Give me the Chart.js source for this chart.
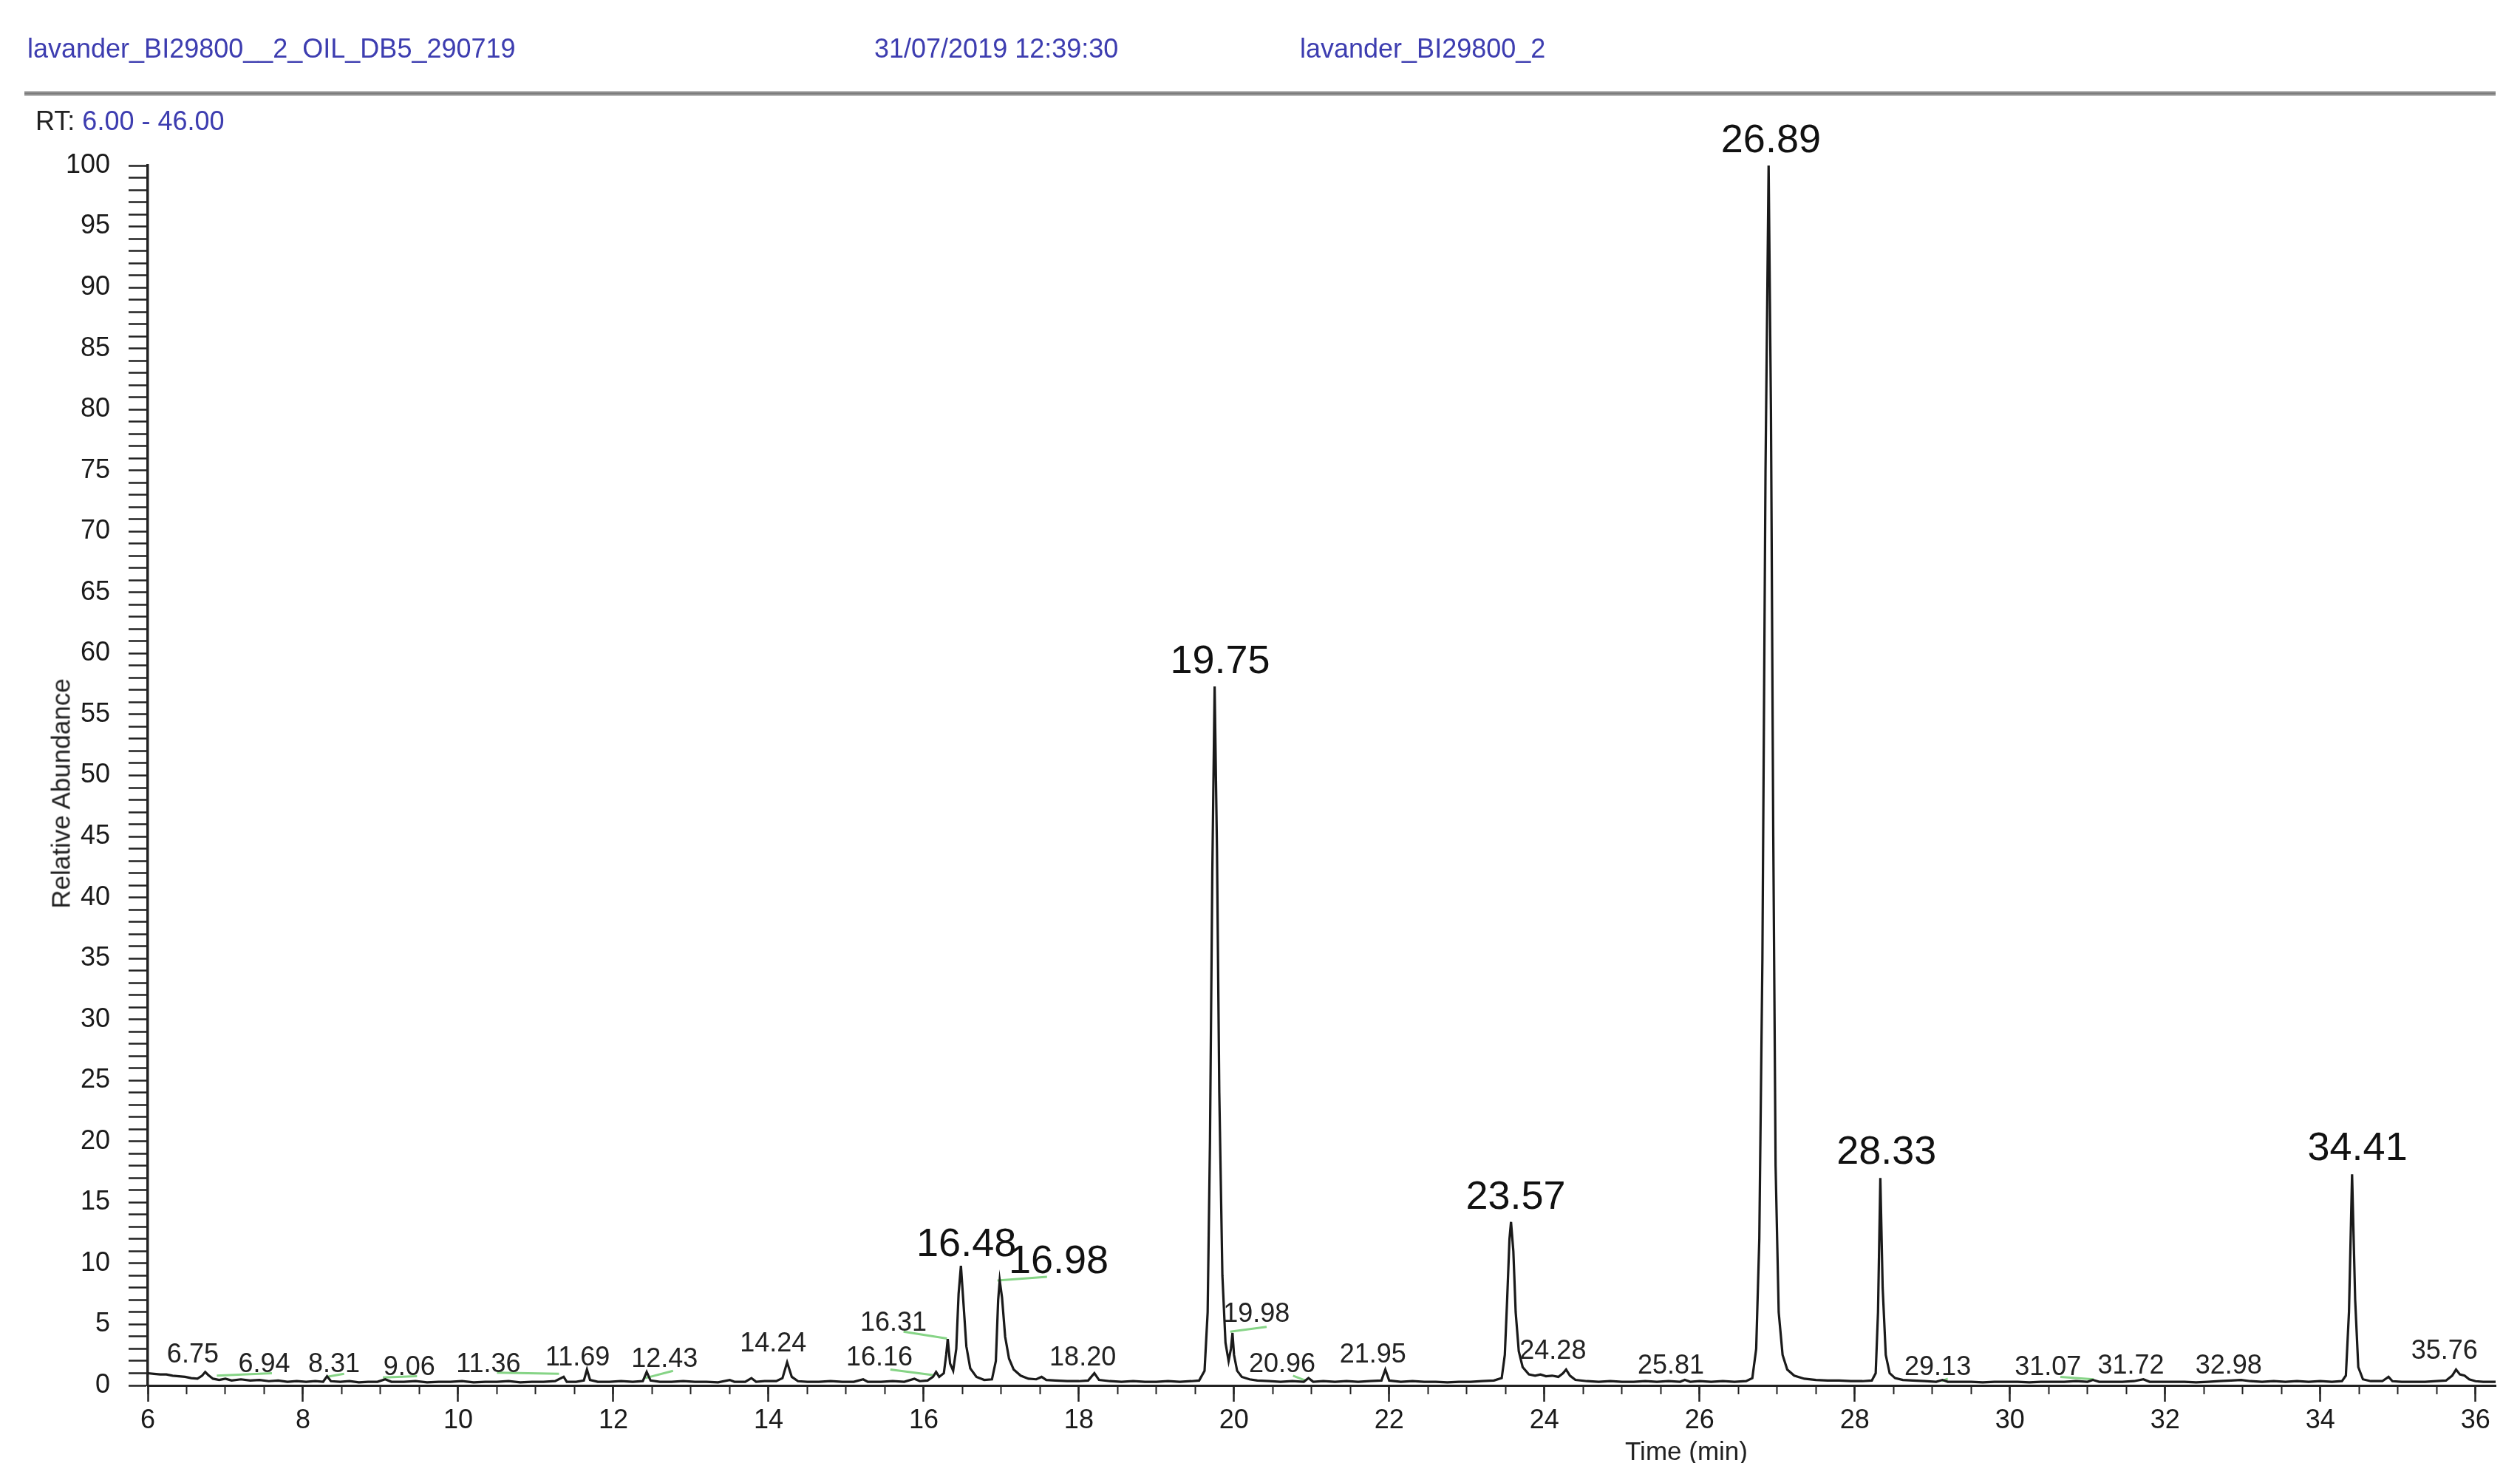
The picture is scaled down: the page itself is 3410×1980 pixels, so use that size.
<!DOCTYPE html>
<html>
<head>
<meta charset="utf-8">
<script src="https://cdn.jsdelivr.net/npm/chart.js@4.4.0/dist/chart.umd.min.js"></script>
<style>
  html, body { margin: 0; padding: 0; background: #fff; }
  #wrap { position: relative; width: 3410px; height: 1980px; overflow: hidden; }
  #chart { position: absolute; left: 0; top: 0; }
  .txt { position: absolute; font-family: "Liberation Sans", Arial, sans-serif; font-size: 36px; line-height: 1; white-space: nowrap; color: #3d3db0; z-index: 2; }
  .rule { position: absolute; left: 33px; top: 123px; width: 3344px; height: 7px; background: linear-gradient(#d0d0d0, #7c7c7c 40%, #7c7c7c 60%, #d0d0d0); }
</style>
</head>
<body>
<div id="wrap">
  <canvas id="chart" width="3410" height="1980"></canvas>
  <div class="txt" style="left:37px;top:48px">lavander_BI29800__2_OIL_DB5_290719</div>
  <div class="txt" style="left:1183px;top:48px">31/07/2019 12:39:30</div>
  <div class="txt" style="left:1759px;top:48px">lavander_BI29800_2</div>
  <div class="rule"></div>
  <div class="txt" style="left:48px;top:146px;color:#222">RT: <span style="color:#3d3db0">6.00 - 46.00</span></div>
  <div class="txt" style="left:82px;top:1074px;font-size:35px;color:#222;transform:translate(-50%,-50%) rotate(-90deg)">Relative Abundance</div>
  <div class="txt" style="left:2282px;top:1946px;font-size:35px;color:#222;transform:translateX(-50%)">Time (min)</div>
</div>
<script>
// Chromatogram trace, [retention time (min), relative abundance (%)]
const traceEarly = [
  [6.00, 1.0], [6.08, 0.95], [6.16, 0.9], [6.24, 0.9], [6.32, 0.8], [6.40, 0.75], [6.48, 0.7],
  [6.56, 0.6], [6.64, 0.55], [6.70, 0.8], [6.74, 1.1], [6.78, 0.85], [6.84, 0.55], [6.92, 0.45],
  [7.00, 0.55], [7.08, 0.4], [7.20, 0.5], [7.32, 0.4], [7.44, 0.45], [7.56, 0.35], [7.68, 0.4],
  [7.80, 0.3], [7.92, 0.35], [8.04, 0.3], [8.16, 0.35], [8.26, 0.3], [8.31, 0.75], [8.36, 0.35],
  [8.48, 0.3], [8.60, 0.35], [8.72, 0.25], [8.84, 0.3], [8.96, 0.3], [9.06, 0.5], [9.14, 0.3],
  [9.30, 0.3], [9.45, 0.35], [9.60, 0.25], [9.75, 0.3], [9.90, 0.3], [10.05, 0.35], [10.20, 0.25],
  [10.35, 0.3], [10.50, 0.3], [10.65, 0.35], [10.80, 0.25], [10.95, 0.3], [11.10, 0.3], [11.25, 0.35],
  [11.36, 0.7], [11.40, 0.3], [11.52, 0.3], [11.62, 0.4], [11.66, 1.3], [11.70, 0.45], [11.80, 0.3],
  [11.95, 0.3], [12.10, 0.35], [12.25, 0.3], [12.38, 0.35], [12.43, 1.1], [12.48, 0.4], [12.60, 0.3],
  [12.75, 0.3], [12.90, 0.35], [13.05, 0.3], [13.20, 0.3], [13.35, 0.25], [13.50, 0.45], [13.56, 0.3],
  [13.70, 0.3], [13.78, 0.6], [13.84, 0.3], [13.95, 0.35], [14.10, 0.35], [14.18, 0.6], [14.24, 1.9],
  [14.30, 0.7], [14.38, 0.35], [14.50, 0.3], [14.65, 0.3], [14.80, 0.35], [14.95, 0.3], [15.10, 0.3],
  [15.22, 0.5], [15.28, 0.3], [15.45, 0.3], [15.60, 0.35], [15.75, 0.3], [15.88, 0.55], [15.95, 0.35],
  [16.05, 0.4]
];
const trace16to19 = [
  [16.12, 0.7], [16.16, 1.1], [16.20, 0.7], [16.26, 1.0], [16.29, 2.5], [16.31, 3.8], [16.34, 1.8],
  [16.38, 1.2], [16.42, 3.0], [16.45, 7.5], [16.48, 9.8], [16.51, 7.0], [16.55, 3.2], [16.60, 1.4],
  [16.68, 0.7], [16.78, 0.45], [16.88, 0.5], [16.93, 2.0], [16.96, 7.0], [16.98, 8.6], [17.01, 7.2],
  [17.05, 4.0], [17.10, 2.2], [17.16, 1.3], [17.25, 0.8], [17.35, 0.55], [17.45, 0.5], [17.52, 0.7],
  [17.58, 0.45], [17.70, 0.4], [17.85, 0.35], [18.00, 0.35], [18.12, 0.4], [18.20, 1.0], [18.26, 0.45],
  [18.40, 0.35], [18.55, 0.3], [18.70, 0.35], [18.85, 0.3], [19.00, 0.3], [19.15, 0.35], [19.30, 0.3],
  [19.45, 0.35], [19.55, 0.4]
];
const trace19to23 = [
  [19.62, 1.2], [19.66, 6], [19.69, 20], [19.72, 42], [19.75, 57.3], [19.78, 44], [19.81, 24],
  [19.85, 9], [19.89, 3.5], [19.93, 2.0], [19.96, 3.0], [19.98, 4.3], [20.00, 2.5], [20.04, 1.2],
  [20.10, 0.7], [20.20, 0.5], [20.30, 0.4], [20.45, 0.35], [20.60, 0.3], [20.75, 0.35], [20.90, 0.3],
  [20.96, 0.6], [21.02, 0.3], [21.15, 0.35], [21.30, 0.3], [21.45, 0.35], [21.60, 0.3], [21.75, 0.35],
  [21.90, 0.4], [21.95, 1.3], [22.00, 0.4], [22.15, 0.3], [22.30, 0.35], [22.45, 0.3], [22.60, 0.3],
  [22.75, 0.25], [22.90, 0.3], [23.05, 0.3], [23.20, 0.35], [23.35, 0.4]
];
const trace23to28 = [
  [23.45, 0.6], [23.49, 2.5], [23.52, 7], [23.55, 12], [23.57, 13.4], [23.60, 11], [23.63, 6],
  [23.67, 2.8], [23.72, 1.5], [23.80, 0.9], [23.88, 0.8], [23.95, 0.9], [24.02, 0.75], [24.10, 0.8],
  [24.18, 0.7], [24.24, 1.0], [24.28, 1.3], [24.33, 0.8], [24.40, 0.45], [24.55, 0.35], [24.70, 0.3],
  [24.85, 0.35], [25.00, 0.3], [25.15, 0.3], [25.30, 0.35], [25.45, 0.3], [25.60, 0.35], [25.75, 0.3],
  [25.81, 0.45], [25.88, 0.3], [26.00, 0.35], [26.15, 0.3], [26.30, 0.35], [26.45, 0.3], [26.60, 0.35],
  [26.68, 0.6], [26.73, 3], [26.77, 12], [26.81, 35], [26.85, 75], [26.89, 100], [26.92, 80],
  [26.95, 45], [26.98, 18], [27.02, 6], [27.07, 2.5], [27.13, 1.3], [27.22, 0.8], [27.35, 0.55],
  [27.50, 0.45], [27.65, 0.4], [27.80, 0.4], [27.95, 0.35], [28.10, 0.35], [28.22, 0.4]
];
const traceLate = [
  [28.27, 1.0], [28.30, 6], [28.33, 17.0], [28.36, 8], [28.40, 2.5], [28.45, 1.0], [28.52, 0.6],
  [28.62, 0.45], [28.75, 0.4], [28.90, 0.35], [29.05, 0.3], [29.13, 0.45], [29.20, 0.3], [29.35, 0.3],
  [29.50, 0.3], [29.65, 0.25], [29.80, 0.3], [29.95, 0.3], [30.10, 0.3], [30.25, 0.25], [30.40, 0.3],
  [30.55, 0.3], [30.70, 0.3], [30.85, 0.35], [31.00, 0.3], [31.07, 0.45], [31.15, 0.3], [31.30, 0.3],
  [31.45, 0.3], [31.60, 0.35], [31.72, 0.5], [31.80, 0.3], [31.95, 0.3], [32.10, 0.3], [32.25, 0.3],
  [32.40, 0.25], [32.55, 0.3], [32.70, 0.35], [32.85, 0.4], [32.98, 0.45], [33.10, 0.35], [33.25, 0.3],
  [33.40, 0.35], [33.55, 0.3], [33.70, 0.35], [33.85, 0.3], [34.00, 0.35], [34.15, 0.3], [34.28, 0.35],
  [34.33, 0.8], [34.37, 6], [34.41, 17.3], [34.45, 7], [34.49, 1.5], [34.55, 0.5], [34.65, 0.35],
  [34.80, 0.35], [34.88, 0.7], [34.93, 0.35], [35.05, 0.3], [35.20, 0.3], [35.35, 0.3], [35.50, 0.35],
  [35.62, 0.4], [35.70, 0.8], [35.75, 1.3], [35.80, 0.9], [35.86, 0.8], [35.92, 0.5], [36.00, 0.35],
  [36.10, 0.3], [36.26, 0.3]
];

// Integration baselines (green)
const integrationLines = [
  [[6.89, 0.8], [7.60, 1.0]],
  [[8.30, 0.7], [8.53, 0.95]],
  [[9.03, 0.65], [9.47, 0.75]],
  [[10.50, 1.05], [11.30, 0.95]],
  [[12.41, 0.6], [12.77, 1.2]],
  [[15.57, 1.3], [16.12, 0.85]],
  [[15.74, 4.4], [16.30, 3.85]],
  [[16.95, 8.6], [17.59, 8.9]],
  [[19.95, 4.4], [20.42, 4.8]],
  [[20.76, 0.8], [20.92, 0.4]],
  [[29.12, 0.35], [29.20, 0.55]],
  [[30.65, 0.7], [31.08, 0.5]]
];

// Peak labels: text, anchor time, anchor abundance, large or not
const peakNames = ['6.75', '6.94', '8.31', '9.06', '11.36', '11.69', '12.43', '14.24', '16.16', '16.31',
  '16.48', '16.98', '18.20', '19.75', '19.98', '20.96', '21.95', '23.57', '24.28', '25.81',
  '26.89', '28.33', '29.13', '31.07', '31.72', '32.98', '34.41', '35.76'];
const labelRT = [6.58, 7.50, 8.40, 9.37, 10.39, 11.54, 12.66, 14.06, 15.43, 15.61,
  16.55, 17.74, 18.05, 19.82, 20.29, 20.62, 21.79, 23.63, 24.11, 25.63,
  26.92, 28.41, 29.07, 30.49, 31.56, 32.82, 34.48, 35.60];
const labelAbund = [2.5, 1.7, 1.7, 1.45, 1.7, 2.25, 2.1, 3.4, 2.25, 5.1,
  11.5, 10.1, 2.25, 59.3, 5.8, 1.7, 2.5, 15.4, 2.8, 1.6,
  102, 19.1, 1.45, 1.45, 1.6, 1.6, 19.4, 2.8];
const bigPeaks = ['16.48', '16.98', '19.75', '23.57', '26.89', '28.33', '34.41'];

const FONT = '"Liberation Sans", Arial, sans-serif';
const toXY = pts => pts.map(p => ({ x: p[0], y: p[1] }));

const trace = [].concat(traceEarly, trace16to19, trace19to23, trace23to28, traceLate);

const datasets = [{
  data: toXY(trace),
  borderColor: '#1a1a1a',
  borderWidth: 3.2,
  pointRadius: 0,
  tension: 0
}];
integrationLines.forEach(seg => {
  datasets.push({
    data: toXY(seg),
    borderColor: '#86d486',
    borderWidth: 3,
    pointRadius: 0,
    tension: 0
  });
});

const peakLabelPlugin = {
  id: 'peakLabels',
  afterDatasetsDraw(chart) {
    const { ctx, scales: { x, y } } = chart;
    ctx.save();
    ctx.textAlign = 'center';
    ctx.textBaseline = 'middle';
    peakNames.forEach((name, i) => {
      const big = bigPeaks.includes(name);
      ctx.font = (big ? '54px ' : '36px ') + FONT;
      ctx.fillStyle = big ? '#111' : '#222';
      ctx.fillText(name, x.getPixelForValue(labelRT[i]), y.getPixelForValue(labelAbund[i]));
    });
    ctx.restore();
  }
};

new Chart(document.getElementById('chart'), {
  type: 'line',
  data: { datasets },
  plugins: [peakLabelPlugin],
  options: {
    responsive: false,
    animation: false,
    layout: { padding: { top: 224, right: 33, bottom: 0, left: 0 } },
    plugins: { legend: { display: false }, tooltip: { enabled: false } },
    scales: {
      x: {
        type: 'linear', position: 'bottom', min: 6, max: 36.26, bounds: 'data',
        afterFit: s => { s.height = 105; },
        ticks: { stepSize: 2, includeBounds: false, autoSkip: false, maxRotation: 0, padding: 4,
                 color: '#1a1a1a', font: { family: FONT, size: 36 }, callback: v => v },
        grid: { drawOnChartArea: false, tickLength: 22, tickWidth: 2.5, tickColor: '#222' },
        border: { color: '#222', width: 3 }
      },
      xMinor: {
        type: 'linear', axis: 'x', position: { y: 0 }, min: 6, max: 36.26, bounds: 'data',
        ticks: { display: false, stepSize: 0.5, includeBounds: false, autoSkip: false },
        grid: { drawOnChartArea: false, tickLength: 12, tickWidth: 2, tickColor: '#222' },
        border: { display: false }
      },
      y: {
        min: 0, max: 100,
        afterFit: s => { s.width = 200; },
        ticks: { stepSize: 1, autoSkip: false, padding: 25, color: '#1a1a1a',
                 font: { family: FONT, size: 36 },
                 callback: v => (v % 5 === 0 ? v : '') },
        grid: { drawOnChartArea: false, tickLength: 26, tickWidth: 2.5, tickColor: '#222' },
        border: { color: '#222', width: 3.5 }
      }
    }
  }
});
</script>
</body>
</html>
